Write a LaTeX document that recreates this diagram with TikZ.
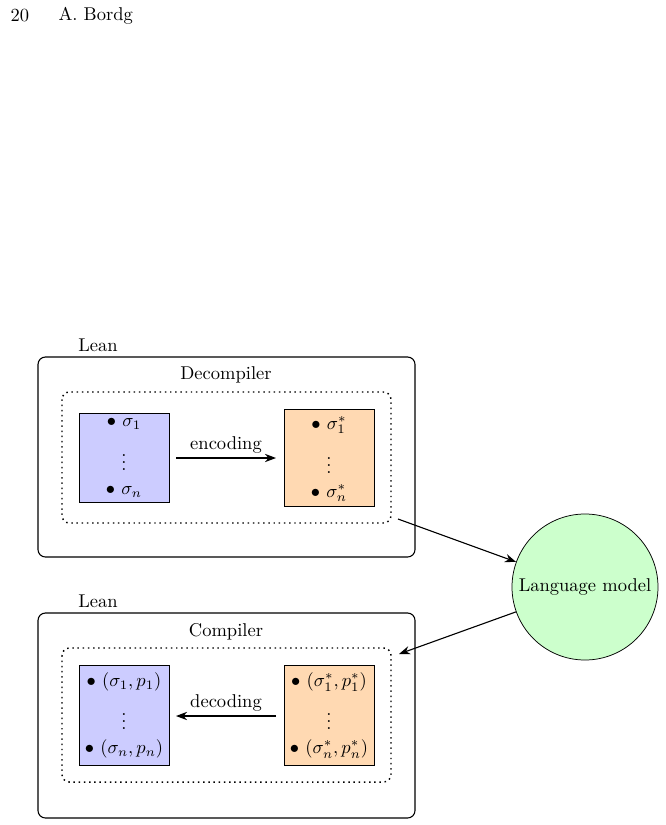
\documentclass[tikz,border=0pt]{standalone}
\usetikzlibrary{arrows.meta}
\begin{document}
\begin{tikzpicture}[x=0.54pt,y=-0.54pt,
  outer/.style={draw,semithick,rounded corners=4pt},
  dots/.style={draw,dotted,thick,rounded corners=4pt},
  arr/.style={-{Stealth[length=6pt,width=4.5pt]},semithick},
  it/.style={inner sep=0pt},
  lbl/.style={inner sep=2pt}]
\useasboundingbox (0,0) rectangle (666,825);
\node[anchor=west] (pg) at (4,16) {20};
\node[anchor=west] (au) at (52,16) {A. Bordg};
% upper
\node (lean1) at (98,345) {Lean};
\draw[outer] (38,357) rectangle (415,557);
\node (dec) at (226,375) {Decompiler};
\draw[dots] (62,392) rectangle (391,523);
\draw[fill=blue!20] (79,413) rectangle (169,502);
\draw[fill=orange!30] (284,409) rectangle (374,506);
\node[it] (b1a) at (124,424) {$\bullet\ \sigma_1$};
\node[it] (b1v) at (124,457) {$\vdots$};
\node[it] (b1b) at (124,492) {$\bullet\ \sigma_n$};
\node[it] (o1a) at (329,425) {$\bullet\ \sigma_1^*$};
\node[it] (o1v) at (329,460) {$\vdots$};
\node[it] (o1b) at (329,493) {$\bullet\ \sigma_n^*$};
\coordinate (e1) at (176,458);
\coordinate (e2) at (276,458);
\draw[arr] (e1) -- (e2) node[midway,above,lbl] {encoding};
% model
\node[draw,circle,fill=green!20,minimum size=146*0.54pt,inner sep=0pt] (lm) at (585,587) {Language model};
\coordinate (d1) at (398,519);
\coordinate (c1) at (399,654);
\draw[arr] (d1) -- (lm);
\draw[arr] (lm) -- (c1);
% lower
\node (lean2) at (98,601) {Lean};
\draw[outer] (38,613) rectangle (415,818);
\node (com) at (226,632) {Compiler};
\draw[dots] (62,648) rectangle (391,782);
\draw[fill=blue!20] (79,665) rectangle (169,765);
\draw[fill=orange!30] (284,665) rectangle (374,765);
\node[it] (b2a) at (124,682) {$\bullet\ (\sigma_1,p_1)$};
\node[it] (b2v) at (124,716) {$\vdots$};
\node[it] (b2b) at (124,749) {$\bullet\ (\sigma_n,p_n)$};
\node[it] (o2a) at (329,682) {$\bullet\ (\sigma_1^*,p_1^*)$};
\node[it] (o2v) at (329,716) {$\vdots$};
\node[it] (o2b) at (329,749) {$\bullet\ (\sigma_n^*,p_n^*)$};
\coordinate (f1) at (276,716);
\coordinate (f2) at (176,716);
\draw[arr] (f1) -- (f2) node[midway,above,lbl] {decoding};
\end{tikzpicture}
\end{document}
